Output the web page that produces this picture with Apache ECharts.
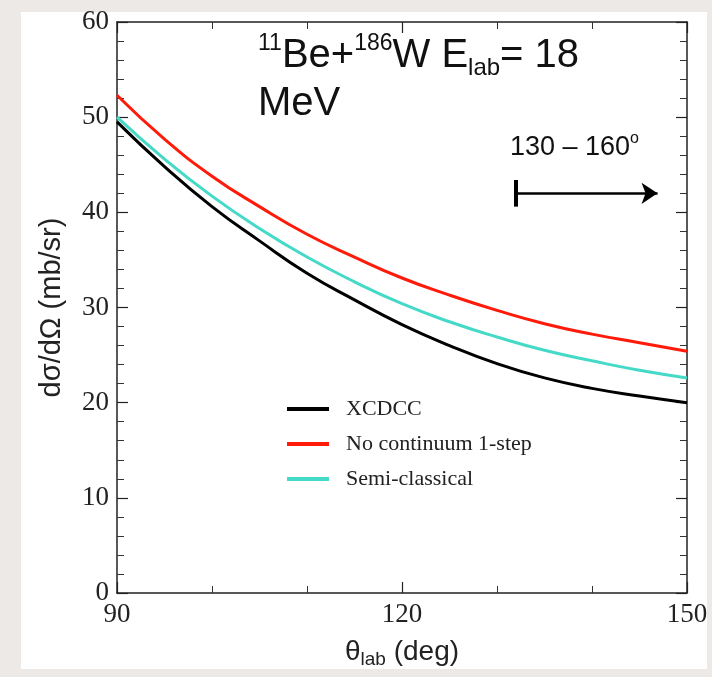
<!DOCTYPE html>
<html><head><meta charset="utf-8">
<script src="https://cdn.jsdelivr.net/npm/echarts@6/dist/echarts.min.js"></script>
<style>html,body{margin:0;padding:0;background:#ece9e6;}#c{width:712px;height:677px;}</style>
</head><body><div id="c"></div>
<script>
const theta = [90, 95, 100, 105, 110, 115, 120, 125, 130, 135, 140, 145, 150];
const xcdcc = [49.5, 44.8, 40.6, 37.0, 33.6, 30.8, 28.2, 26.0, 24.1, 22.6, 21.5, 20.7, 20.0];
const noCont = [52.3, 47.7, 43.8, 40.6, 37.7, 35.3, 33.1, 31.3, 29.7, 28.3, 27.2, 26.3, 25.4];
const semiCl = [50.0, 45.6, 41.7, 38.3, 35.3, 32.7, 30.4, 28.5, 26.9, 25.5, 24.4, 23.4, 22.6];
const seriesNames = ['XCDCC', 'No continuum 1-step', 'Semi-classical'];
const xTickLabels = [90, 120, 150];
const yTickLabels = [0, 10, 20, 30, 40, 50, 60];
const arrowRange = [132, 146.9];
const arrowY = 42.0;
const barRange = [40.6, 43.4];

const chart = echarts.init(document.getElementById('c'));
const serif = '"Liberation Serif", "DejaVu Serif", serif';
const sans = '"Liberation Sans", Arial, sans-serif';
const pair = (xs, ys) => xs.map((x, i) => [x, ys[i]]);
const xBase = {
  type: 'value', min: 90, max: 150, interval: 30,
  axisLine: {show: true, onZero: false, lineStyle: {color: '#222', width: 1.5}},
  axisTick: {show: true, inside: true, length: 11, lineStyle: {color: '#222', width: 1.2}},
  minorTick: {show: true, splitNumber: 3, length: 7, lineStyle: {color: '#333', width: 1}},
  splitLine: {show: false}
};
const yBase = {
  type: 'value', min: 0, max: 60, interval: 10,
  axisLine: {show: true, onZero: false, lineStyle: {color: '#222', width: 1.5}},
  axisTick: {show: true, inside: true, length: 11, lineStyle: {color: '#222', width: 1.2}},
  minorTick: {show: true, splitNumber: 5, length: 7, lineStyle: {color: '#333', width: 1}},
  splitLine: {show: false}
};
chart.setOption({
  animation: false,
  backgroundColor: '#ece9e6',
  graphic: [{type: 'rect', shape: {x: 21, y: 12, width: 686, height: 657}, style: {fill: '#ffffff'}, z: -10}],
  title: [{
    left: 253, top: 27,
    text: '{sup|11}{b|Be+}{sup|186}{b|W E}{sub|lab}{b|= 18}\n{b|MeV}',
    textStyle: {
      fontWeight: 'normal',
      rich: {
        b: {fontFamily: sans, fontSize: 40, fontWeight: 'normal', color: '#111', lineHeight: 48},
        sup: {fontFamily: sans, fontSize: 23, fontWeight: 'normal', color: '#111', verticalAlign: 'top', lineHeight: 48, padding: [0, 0, 14, 0]},
        sub: {fontFamily: sans, fontSize: 24, fontWeight: 'normal', color: '#111', verticalAlign: 'bottom', lineHeight: 48, padding: [14, 0, 0, 0]}
      }
    }
  }, {
    left: 505, top: 126,
    text: '{b|130 – 160}{sup|o}',
    textStyle: {fontWeight: 'normal', rich: {
      b: {fontFamily: sans, fontSize: 27, fontWeight: 'normal', color: '#111', lineHeight: 34},
      sup: {fontFamily: sans, fontSize: 16, fontWeight: 'normal', color: '#111', verticalAlign: 'top', lineHeight: 34}
    }}
  }],
  grid: {left: 117, right: 25, top: 22, bottom: 84},
  legend: {
    data: seriesNames, orient: 'vertical', left: 282, top: 393,
    icon: 'rect', itemWidth: 42, itemHeight: 4, itemGap: 13,
    textStyle: {fontFamily: serif, fontSize: 22, color: '#222', lineHeight: 21, padding: [0, 0, 0, 12]}
  },
  xAxis: [Object.assign({}, xBase, {
    position: 'bottom',
    name: '{t|θ}{s|lab}{t| (deg)}', nameLocation: 'middle', nameGap: 42,
    nameTextStyle: {rich: {
      t: {fontFamily: sans, fontSize: 28, color: '#222'},
      s: {fontFamily: sans, fontSize: 19, color: '#222', verticalAlign: 'bottom', padding: [15, 0, 0, 0]}
    }},
    axisLabel: {fontFamily: serif, fontSize: 27, color: '#222', margin: 8}
  }), Object.assign({}, xBase, {position: 'top', axisLabel: {show: false}})],
  yAxis: [Object.assign({}, yBase, {
    position: 'left',
    name: 'dσ/dΩ (mb/sr)', nameLocation: 'middle', nameGap: 51, nameRotate: 90,
    nameTextStyle: {fontFamily: sans, fontSize: 29, color: '#222'},
    axisLabel: {fontFamily: serif, fontSize: 27, color: '#222', margin: 8}
  }), Object.assign({}, yBase, {position: 'right', axisLabel: {show: false}})],
  series: [
    {name: seriesNames[0], type: 'line', data: pair(theta, xcdcc), smooth: true, symbol: 'none', color: '#000', lineStyle: {width: 3, color: '#000'}},
    {name: seriesNames[1], type: 'line', data: pair(theta, noCont), smooth: true, symbol: 'none', color: '#ff1a0a', lineStyle: {width: 3, color: '#ff1a0a'}},
    {name: seriesNames[2], type: 'line', data: pair(theta, semiCl), smooth: true, symbol: 'none', color: '#45d9c8', lineStyle: {width: 3, color: '#45d9c8'}},
    {type: 'lines', coordinateSystem: 'cartesian2d', symbol: ['none', 'arrow'], symbolSize: 16,
     lineStyle: {color: '#000', width: 2.5, opacity: 1},
     data: [{coords: [[arrowRange[0], arrowY], [arrowRange[1], arrowY]]}]},
    {type: 'lines', coordinateSystem: 'cartesian2d',
     lineStyle: {color: '#000', width: 4, opacity: 1},
     data: [{coords: [[arrowRange[0], barRange[0]], [arrowRange[0], barRange[1]]]}]}
  ]
});
</script></body></html>
